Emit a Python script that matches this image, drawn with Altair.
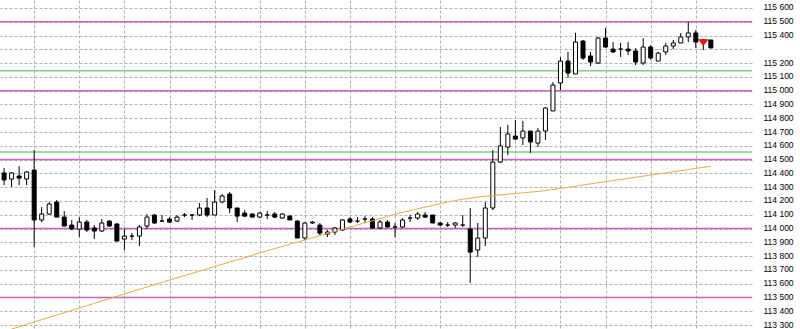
import altair as alt
import pandas as pd

# ---- data ----
opens = [114403,114359,114381,114359,114424,114062,114105,114192,114083,114025,
         113996,114047,114004,113982,114054,114033,113924,113945,113945,114018,
         114098,114054,114069,114054,114098,114098,114098,114149,114098,114192,
         114250,114149,114112,114105,114083,114098,114105,114076,114090,114054,
         113931,114040,114025,113960,113975,113989,114069,114054,114069,114069,
         114004,114047,114011,114011,114076,114076,114098,114098,114040,114025,
         114025,114025,113996,113844,113931,114149,114482,114591,114671,114657,
         114707,114620,114707,114853,115056,115215,115121,115360,115252,115201,
         115382,115302,115302,115302,115288,115201,115317,115215,115281,115324,
         115346,115390,115419,115368,115368]
highs = [114439,114410,114453,114417,114569,114156,114192,114207,114127,114062,
         114083,114062,114025,114069,114062,114040,113996,113967,114025,114105,
         114105,114098,114083,114098,114112,114105,114185,114221,114279,114250,
         114265,114149,114134,114112,114120,114127,114120,114112,114098,114062,
         114047,114054,114040,113989,114011,114069,114083,114083,114090,114083,
         114062,114062,114040,114076,114098,114120,114120,114098,114047,114047,
         114047,114098,114149,114040,114192,114569,114737,114751,114787,114780,
         114707,114729,114881,115063,115244,115281,115419,115368,115281,115390,
         115455,115353,115346,115353,115310,115382,115331,115281,115346,115368,
         115419,115498,115440,115368,115368]
lows = [114315,114301,114315,114315,113866,114047,114098,114083,114018,113989,
        113938,113975,113924,113975,114011,113909,113844,113916,113873,113996,
        114033,114047,114040,114047,114083,114062,114090,114083,114098,114185,
        114112,114047,114083,114083,114076,114069,114076,114069,114062,113931,
        113916,114033,113953,113938,113953,113982,114040,114040,114040,113996,
        113996,114004,113938,114004,114047,114062,114076,114040,114018,114011,
        114004,114011,113605,113793,113873,114134,114475,114533,114642,114606,
        114548,114591,114642,114853,115005,115092,115121,115223,115179,115193,
        115310,115273,115244,115259,115186,115186,115223,115215,115259,115302,
        115346,115353,115310,115295,115310]
closes = [114352,114403,114366,114410,114062,114105,114178,114083,114018,113996,
          114047,113989,113982,114040,114018,113909,113945,113945,114011,114083,
          114040,114054,114047,114083,114098,114098,114149,114098,114192,114236,
          114149,114090,114090,114083,114112,114098,114083,114105,114062,113931,
          114040,114047,113967,113975,114004,114062,114047,114054,114069,114004,
          114047,114011,114011,114062,114076,114105,114083,114040,114025,114025,
          114040,114025,113829,113931,114149,114482,114599,114686,114649,114707,
          114628,114707,114874,115041,115215,115128,115353,115237,115208,115382,
          115317,115281,115302,115288,115208,115317,115237,115273,115324,115346,
          115390,115419,115353,115353,115310]
ma = [113254,113270,113288,113305,113322,113339,113356,113372,113390,113406,
      113423,113440,113457,113474,113491,113508,113524,113542,113559,113575,
      113593,113609,113626,113642,113659,113675,113691,113707,113724,113740,
      113757,113773,113789,113806,113823,113839,113855,113870,113886,113901,
      113917,113932,113948,113964,113979,113994,114010,114025,114041,114056,
      114072,114088,114103,114118,114130,114143,114155,114168,114180,114192,
      114203,114213,114221,114228,114234,114239,114244,114249,114254,114259,
      114264,114269,114275,114283,114291,114299,114307,114316,114324,114332,
      114340,114348,114356,114364,114372,114380,114388,114396,114404,114412,
      114420,114428,114436,114444,114452]

magenta_levels = [115500, 115000, 114500, 114000, 113500]
green_levels = [115145, 114555]
grid_bars = [4, 10, 16, 22, 28, 34, 40, 46, 52, 58, 68, 74, 80, 86, 92]
price_ticks = list(range(113300, 115700, 100))
signal_bar = [93]
signal_price = [115350]

# ---- tables ----
n = len(opens)
df = pd.DataFrame({
    "i": list(range(n)),
    "open": opens, "high": highs, "low": lows, "close": closes, "ma": ma,
})
df["fill"] = ["white" if c >= o else "black" for o, c in zip(opens, closes)]

levels = pd.DataFrame({
    "level": magenta_levels + green_levels,
    "col": ["#c864c0"] * len(magenta_levels) + ["#7ad27a"] * len(green_levels),
})
sig = pd.DataFrame({"i": signal_bar, "p": signal_price})

xscale = alt.Scale(domain=[0.12, 98.81], nice=False, zero=False)
yscale = alt.Scale(domain=[113271, 115658], nice=False, zero=False)

xaxis = alt.Axis(values=grid_bars, grid=True, labels=False, ticks=False, domain=False,
                 title=None, gridDash=[3, 2], gridColor="#b0b0b0", gridWidth=1)
yaxis = alt.Axis(orient="right", values=price_ticks, grid=True, ticks=False, domain=False,
                 title=None, gridDash=[3, 2], gridColor="#b0b0b0", gridWidth=1,
                 labelExpr="datum.value == 115300 ? '' : replace(format(datum.value, ','), ',', ' ')",
                 labelPadding=11, labelFont="Liberation Sans", labelFontSize=8.5,
                 labelOffset=-1,
                 labelColor="#000000", labelFlush=False, labelOverlap=False)

X = alt.X("i:Q", scale=xscale, axis=xaxis)

lvl = alt.Chart(levels).mark_rule(strokeWidth=1.5).encode(
    y=alt.Y("level:Q", scale=yscale, axis=yaxis),
    color=alt.Color("col:N", scale=None),
)

wicks = alt.Chart(df).mark_rule(color="black", strokeWidth=1).encode(
    x=X,
    y=alt.Y("low:Q", scale=yscale, axis=yaxis),
    y2="high:Q",
)

bodies = alt.Chart(df).mark_bar(size=4, stroke="black", strokeWidth=1).encode(
    x=X,
    y=alt.Y("open:Q", scale=yscale, axis=yaxis),
    y2="close:Q",
    fill=alt.Fill("fill:N", scale=None),
)

maline = alt.Chart(df).mark_line(color="#e9a94b", strokeWidth=1, clip=True).encode(
    x=X,
    y=alt.Y("ma:Q", scale=yscale, axis=yaxis),
)

arrow = alt.Chart(sig).mark_point(
    shape="M -1 -0.6 L 1 -0.6 L 0 0.6 Z", filled=True, fill="#ff1010",
    stroke="#b00000", strokeWidth=0.5, size=100, opacity=1,
).encode(
    x=X,
    y=alt.Y("p:Q", scale=yscale, axis=yaxis),
)

chart = alt.layer(lvl, wicks, bodies, maline, arrow).properties(
    width=752, height=329,
    autosize=alt.AutoSizeParams(type="none"),
    padding={"left": 0, "top": 0, "right": 48, "bottom": 0},
    background="white",
).configure_view(stroke=None)

chart.save("out.html", embed_options={"renderer": "svg", "actions": False})
